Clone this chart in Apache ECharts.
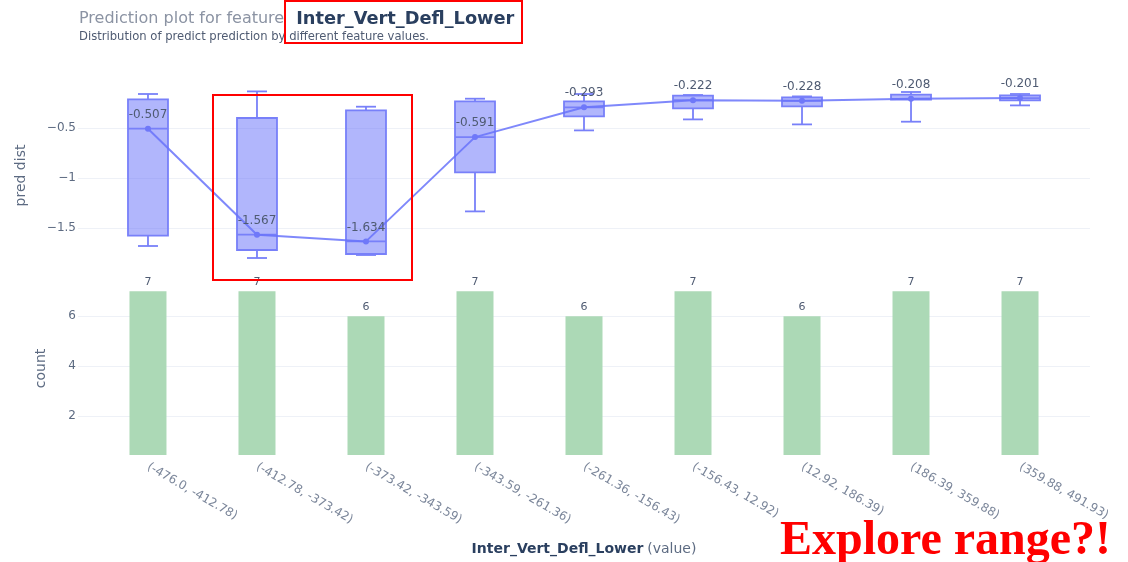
<!DOCTYPE html>
<html>
<head>
<meta charset="utf-8">
<script src="https://cdn.jsdelivr.net/npm/echarts@6/dist/echarts.min.js"></script>
<style>
  html, body { margin: 0; padding: 0; background: #fff; }
  #chart { width: 1128px; height: 562px; }
</style>
</head>
<body>
<div id="chart"></div>
<script>
// Feature bins (interval labels)
const categories = [
  '(-476.0, -412.78)', '(-412.78, -373.42)', '(-373.42, -343.59)',
  '(-343.59, -261.36)', '(-261.36, -156.43)', '(-156.43, 12.92)',
  '(12.92, 186.39)', '(186.39, 359.88)', '(359.88, 491.93)'
];
// Box statistics per bin: [min, q1, median, q3, max]
const boxStats = [
  [-1.68, -1.577, -0.507, -0.213, -0.16],
  [-1.80, -1.72, -1.567, -0.40, -0.134],
  [-1.77, -1.76, -1.634, -0.324, -0.287],
  [-1.334, -0.944, -0.591, -0.234, -0.207],
  [-0.524, -0.384, -0.293, -0.234, -0.16],
  [-0.414, -0.304, -0.222, -0.177, -0.17],
  [-0.464, -0.284, -0.228, -0.194, -0.184],
  [-0.437, -0.217, -0.208, -0.166, -0.14],
  [-0.274, -0.224, -0.201, -0.174, -0.16]
];
// Median prediction per bin (line + labels)
const medians = [-0.507, -1.567, -1.634, -0.591, -0.293, -0.222, -0.228, -0.208, -0.201];
// Number of samples per bin
const counts = [7, 7, 6, 7, 6, 7, 6, 7, 7];
// Tick values
const predTicks = [-1.5, -1, -0.5];
const countTicks = [2, 4, 6];

const featureName = 'Inter_Vert_Defl_Lower';
const FONT = '"DejaVu Sans", Verdana, sans-serif';
const tickColor = '#5d6b82';
const gridColor = '#eef1f7';
const boxStroke = '#7880f9';
const boxFill = 'rgba(99,110,250,0.5)';
const minus = v => String(v).replace('-', '\u2212');

// Bins are placed at integer positions on a numeric x scale, padded on both sides
const binIdx = categories.map((_, i) => i);
const xMin = -0.642, xMax = 8.642;

// Box with whiskers; caps are half the box width
function renderBox(params, api) {
  const x = api.value(0);
  const [lo, q1, med, q3, hi] = [1, 2, 3, 4, 5].map(d => api.coord([x, api.value(d)]));
  const cx = lo[0];
  const half = 20, cap = 10;
  const line = { stroke: boxStroke, lineWidth: 1.8, fill: null };
  return {
    type: 'group',
    children: [
      { type: 'line', shape: { x1: cx, y1: lo[1], x2: cx, y2: q1[1] }, style: line },
      { type: 'line', shape: { x1: cx, y1: q3[1], x2: cx, y2: hi[1] }, style: line },
      { type: 'line', shape: { x1: cx - cap, y1: lo[1], x2: cx + cap, y2: lo[1] }, style: line },
      { type: 'line', shape: { x1: cx - cap, y1: hi[1], x2: cx + cap, y2: hi[1] }, style: line },
      {
        type: 'rect',
        shape: { x: cx - half, y: q3[1], width: half * 2, height: q1[1] - q3[1] },
        style: { fill: boxFill, stroke: boxStroke, lineWidth: 1.8 }
      },
      { type: 'line', shape: { x1: cx - half, y1: med[1], x2: cx + half, y2: med[1] }, style: line }
    ]
  };
}

const chart = echarts.init(document.getElementById('chart'));
chart.setOption({
  animation: false,
  textStyle: { fontFamily: FONT },
  grid: [
    { left: 78, right: 38, top: 88, height: 175 },
    { left: 78, right: 38, top: 282, bottom: 107 }
  ],
  xAxis: [
    {
      type: 'value', gridIndex: 0, min: xMin, max: xMax,
      axisLine: { show: false }, axisTick: { show: false }, axisLabel: { show: false },
      splitLine: { show: false }
    },
    {
      type: 'value', gridIndex: 1, min: xMin, max: xMax,
      axisLine: { show: false },
      axisTick: { show: false, customValues: binIdx },
      axisLabel: {
        customValues: binIdx, formatter: v => categories[Math.round(v)],
        rotate: -30, fontSize: 12, color: '#7b869a', margin: 11, fontFamily: FONT
      },
      splitLine: { show: false },
      name: '{b|' + featureName + '} {n|(value)}',
      nameLocation: 'middle', nameGap: 87,
      nameTextStyle: {
        rich: {
          b: { fontWeight: 'bold', fontSize: 14, color: '#2a3f5f', fontFamily: FONT },
          n: { fontSize: 14, color: '#5d6b82', fontFamily: FONT }
        }
      }
    }
  ],
  yAxis: [
    {
      type: 'value', gridIndex: 0, min: -1.85, max: -0.1,
      axisLine: { show: false },
      axisTick: { show: false, customValues: predTicks },
      axisLabel: { customValues: predTicks, formatter: minus, fontSize: 12, color: tickColor, margin: 2, fontFamily: FONT },
      splitLine: { show: true, lineStyle: { color: gridColor, width: 1 } },
      name: 'pred dist', nameLocation: 'middle', nameGap: 50,
      nameTextStyle: { fontSize: 14, color: '#5d6b82', fontFamily: FONT }
    },
    {
      type: 'value', gridIndex: 1, min: 0.45, max: 7.37,
      axisLine: { show: false },
      axisTick: { show: false, customValues: countTicks },
      axisLabel: { customValues: countTicks, fontSize: 12, color: tickColor, margin: 2, fontFamily: FONT },
      splitLine: { show: true, lineStyle: { color: gridColor, width: 1 } },
      name: 'count', nameLocation: 'middle', nameGap: 30,
      nameTextStyle: { fontSize: 14, color: '#5d6b82', fontFamily: FONT }
    }
  ],
  series: [
    {
      type: 'custom', xAxisIndex: 0, yAxisIndex: 0,
      data: boxStats.map((b, i) => [i].concat(b)),
      encode: { x: 0, y: [1, 2, 3, 4, 5] },
      renderItem: renderBox
    },
    {
      type: 'line', xAxisIndex: 0, yAxisIndex: 0,
      data: medians.map((m, i) => [i, m]),
      symbol: 'circle', symbolSize: 6,
      lineStyle: { color: 'rgba(105,115,250,0.85)', width: 2 },
      itemStyle: { color: '#6f78f9' },
      label: {
        show: true, position: 'top', distance: 5,
        fontSize: 12, color: '#4f5b72', fontFamily: FONT,
        formatter: p => String(p.value[1])
      },
      z: 5
    },
    {
      type: 'bar', xAxisIndex: 1, yAxisIndex: 1,
      data: counts.map((c, i) => [i, c]),
      barWidth: 37,
      itemStyle: { color: '#acd9b6' },
      label: {
        show: true, position: 'top', distance: 4, fontSize: 11, color: '#4f5b72', fontFamily: FONT,
        formatter: p => String(p.value[1])
      }
    }
  ],
  graphic: [
    {
      type: 'text', left: 79, top: 10,
      style: {
        text: '{a|Prediction plot for feature}{b|' + featureName + '}',
        rich: {
          a: { fontSize: 16, fill: '#8b93a3', fontFamily: FONT },
          b: { fontSize: 17.8, fontWeight: 'bold', fill: '#2a3f5f', fontFamily: FONT, padding: [0, 0, 0, 12] }
        }
      }
    },
    {
      type: 'text', left: 79, top: 31,
      style: {
        text: 'Distribution of predict prediction by different feature values.',
        fontSize: 11.6, fill: '#4f5b72', fontFamily: FONT
      }
    },
    {
      type: 'rect', shape: { x: 285, y: 1, width: 237, height: 42 },
      style: { fill: 'none', stroke: '#ff0000', lineWidth: 2 }, z: 10
    },
    {
      type: 'rect', shape: { x: 213, y: 95, width: 199, height: 185 },
      style: { fill: 'none', stroke: '#ff0000', lineWidth: 2 }, z: 10
    },
    {
      type: 'text', left: 780, top: 518,
      style: {
        text: 'Explore range?!',
        fontSize: 48, fontWeight: 'bold', fill: '#ff0000',
        fontFamily: '"Liberation Serif", "DejaVu Serif", serif'
      }, z: 10
    }
  ]
});
</script>
</body>
</html>
